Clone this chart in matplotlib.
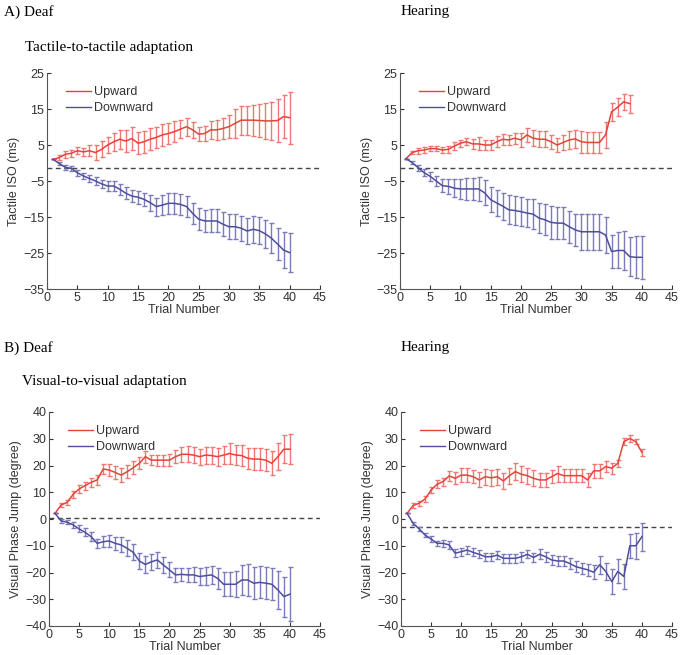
import numpy as np
import matplotlib.pyplot as plt
import matplotlib.lines as mlines

plt.rcParams['font.family'] = ['Liberation Sans', 'DejaVu Sans']

RED = '#e5443a'
RED_ERR = '#ec7a72'
BLUE = '#4e4e9c'
BLUE_ERR = '#7b7bb9'

#---------- A) tactile, deaf ----------#
tac_deaf_up = [1.0, 1.5, 2.4, 2.7, 3.4, 3.1, 3.4, 2.9, 3.8, 5.0,
               5.9, 6.6, 6.1, 6.8, 5.5, 5.9, 6.6, 7.1, 7.8, 8.2,
               8.7, 9.4, 10.1, 9.2, 8.0, 8.2, 9.2, 9.2, 9.6, 10.1,
               11.0, 11.9, 11.9, 11.9, 11.8, 11.7, 11.7, 11.8, 12.9, 12.6]
tac_deaf_up_err = [0, 0.8, 1.0, 1.0, 1.0, 1.2, 1.5, 2.0, 2.2, 2.3,
                   2.5, 2.7, 3.0, 3.2, 3.0, 3.0, 3.0, 3.0, 3.0, 3.0,
                   3.0, 2.5, 2.5, 2.3, 2.0, 2.2, 2.5, 2.8, 3.0, 3.2,
                   4.0, 4.0, 4.0, 4.3, 4.7, 5.0, 5.3, 6.0, 6.0, 7.2]
tac_deaf_down = [1.0, -0.1, -1.2, -1.5, -2.7, -3.6, -4.3, -5.0, -5.8, -6.4,
                 -6.4, -7.3, -8.4, -9.2, -9.5, -10.1, -11.0, -12.1, -11.7, -11.2,
                 -11.2, -11.5, -12.1, -14.0, -15.6, -16.1, -16.1, -16.1, -17.0, -17.7,
                 -17.7, -18.1, -18.9, -18.4, -18.8, -19.7, -20.9, -22.5, -24.2, -24.9]
tac_deaf_down_err = [0, 0.5, 0.7, 0.8, 0.8, 0.9, 1.0, 1.1, 1.2, 1.4,
                     1.5, 1.6, 1.6, 1.7, 1.8, 1.9, 2.2, 2.5, 2.8, 3.0,
                     3.0, 3.0, 3.0, 3.0, 3.0, 3.0, 3.2, 3.2, 3.3, 3.4,
                     3.5, 3.5, 3.6, 3.7, 3.8, 4.0, 4.2, 4.5, 5.0, 5.5]

#---------- A) tactile, hearing ----------#
tac_hear_up = [1.2, 2.9, 3.4, 3.6, 4.0, 4.0, 3.6, 3.8, 4.7, 5.5,
               5.9, 5.3, 5.3, 5.0, 5.0, 5.9, 6.6, 6.4, 6.9, 6.4,
               7.8, 6.9, 6.6, 6.6, 5.9, 5.0, 5.7, 6.4, 6.7, 5.9,
               5.7, 5.7, 5.7, 7.8, 14.2, 15.5, 17.0, 16.5]
tac_hear_up_err = [0, 0.5, 0.8, 0.8, 0.7, 0.6, 0.8, 1.0, 1.0, 1.0,
                   1.0, 1.5, 1.8, 1.5, 1.5, 1.5, 1.5, 1.5, 1.5, 2.0,
                   2.0, 2.2, 2.2, 2.2, 2.0, 2.0, 2.2, 2.5, 2.5, 3.0,
                   3.0, 3.0, 3.0, 3.7, 2.6, 2.5, 2.3, 2.5]
tac_hear_down = [1.2, 0.1, -1.3, -2.7, -3.7, -5.0, -6.3, -6.5, -7.0, -7.2,
                 -7.2, -7.2, -7.2, -8.3, -10.2, -11.1, -12.0, -13.0, -13.2, -13.5,
                 -13.9, -14.2, -15.3, -15.8, -16.5, -16.7, -16.7, -17.7, -18.6, -19.1,
                 -19.1, -19.1, -19.1, -20.0, -24.6, -24.3, -24.3, -26.0, -26.2, -26.2]
tac_hear_down_err = [0, 0.5, 0.8, 1.0, 1.2, 1.5, 1.8, 2.0, 2.5, 2.8,
                     3.0, 3.0, 3.3, 3.5, 3.5, 3.7, 3.8, 4.0, 4.0, 4.0,
                     4.0, 4.2, 4.2, 4.3, 4.5, 4.5, 4.5, 4.5, 4.5, 5.0,
                     5.0, 5.0, 5.0, 5.0, 4.7, 5.0, 5.5, 5.5, 5.8, 6.0]

#---------- B) visual, deaf ----------#
vis_deaf_up = [2.1, 5.2, 6.2, 9.2, 11.2, 12.5, 13.7, 14.6, 18.7, 18.3,
               17.4, 16.4, 17.7, 19.2, 20.8, 23.3, 22.0, 22.0, 22.0, 22.0,
               23.3, 24.2, 24.2, 23.9, 23.3, 23.9, 23.7, 23.3, 23.9, 24.5,
               23.9, 23.7, 22.7, 22.4, 22.4, 22.0, 20.8, 23.3, 26.1, 26.1]
vis_deaf_up_err = [0, 0.8, 1.0, 1.2, 1.5, 1.5, 1.8, 2.0, 2.0, 2.2,
                   2.5, 2.5, 2.5, 2.5, 2.2, 2.2, 1.8, 2.0, 2.0, 2.2,
                   2.5, 2.8, 3.0, 3.0, 3.0, 3.2, 3.3, 3.3, 3.5, 3.8,
                   3.8, 4.0, 4.0, 4.0, 4.0, 4.2, 4.5, 5.0, 5.3, 5.5]
vis_deaf_down = [2.1, -0.7, -1.2, -2.2, -3.7, -5.0, -6.6, -9.1, -8.5, -8.2,
                 -9.1, -9.7, -11.0, -12.5, -15.7, -17.0, -16.0, -15.3, -17.2, -19.0,
                 -20.9, -20.7, -20.9, -20.9, -21.5, -21.2, -20.9, -22.2, -24.4, -24.4,
                 -24.4, -22.8, -22.8, -24.0, -23.7, -24.0, -24.4, -26.5, -29.0, -28.1]
vis_deaf_down_err = [0, 0.8, 0.8, 1.0, 1.3, 1.5, 1.8, 1.8, 2.0, 2.3,
                     2.5, 2.8, 3.0, 3.0, 3.0, 3.0, 3.0, 3.0, 3.0, 2.8,
                     2.5, 2.5, 2.5, 2.8, 3.0, 3.3, 3.5, 4.0, 4.5, 4.5,
                     4.8, 5.5, 5.8, 6.0, 6.0, 6.0, 6.0, 7.0, 7.5, 10.0]

#---------- B) visual, hearing ----------#
vis_hear_up = [2.1, 5.0, 5.9, 7.5, 10.8, 13.0, 14.0, 16.1, 15.2, 16.4,
               16.4, 15.8, 14.6, 15.8, 15.4, 15.8, 14.2, 16.2, 17.7, 16.7,
               16.2, 15.2, 14.6, 14.6, 15.8, 17.0, 16.2, 16.2, 16.2, 16.2,
               14.6, 18.0, 18.0, 19.6, 19.0, 20.8, 28.9, 30.1, 28.9, 24.9]
vis_hear_up_err = [0, 0.8, 1.0, 1.2, 1.2, 1.5, 1.5, 2.0, 2.2, 2.5,
                   2.5, 2.5, 2.8, 3.0, 3.0, 3.0, 3.0, 3.0, 3.3, 3.0,
                   3.0, 3.0, 2.5, 2.5, 2.5, 3.0, 2.5, 2.5, 2.5, 2.5,
                   2.5, 2.5, 2.5, 2.0, 2.0, 1.2, 1.2, 1.2, 1.0, 1.2]
vis_hear_down = [2.1, -1.6, -3.7, -6.0, -7.5, -9.1, -9.1, -9.7, -12.8, -12.2,
                 -11.6, -12.5, -13.2, -14.1, -14.1, -13.5, -14.7, -14.7, -14.7, -14.1,
                 -13.2, -14.4, -13.2, -14.1, -15.3, -15.7, -15.7, -16.6, -17.8, -18.4,
                 -19.0, -19.9, -17.1, -19.6, -23.4, -19.6, -21.5, -10.0, -10.0, -6.6]
vis_hear_down_err = [0, 0.5, 0.8, 0.8, 1.0, 1.0, 1.3, 1.5, 1.5, 1.5,
                     1.5, 1.5, 1.5, 1.5, 1.5, 1.5, 1.8, 1.8, 1.8, 1.8,
                     1.5, 1.8, 1.8, 1.8, 2.0, 2.0, 2.0, 2.0, 2.0, 2.0,
                     2.3, 2.7, 3.3, 3.3, 4.7, 4.5, 4.7, 4.5, 4.8, 5.2]

# dashed reference level per panel
base_lvl = [-1.3, -1.4, 0.3, -2.9]

fig = plt.figure(figsize=(6.85, 6.55), dpi=100)
W, H = 685., 655.

def make_ax(x0, x1, ytop, ybot):
    return fig.add_axes([x0/W, 1-ybot/H, (x1-x0)/W, (ybot-ytop)/H])

panels = [
    (make_ax(47, 320, 73, 289), tac_deaf_up, tac_deaf_up_err, tac_deaf_down, tac_deaf_down_err, 'Tactile ISO (ms)', (-35, 25), np.arange(-35, 26, 10)),
    (make_ax(400, 672, 73, 289), tac_hear_up, tac_hear_up_err, tac_hear_down, tac_hear_down_err, 'Tactile ISO (ms)', (-35, 25), np.arange(-35, 26, 10)),
    (make_ax(49, 320, 412, 626), vis_deaf_up, vis_deaf_up_err, vis_deaf_down, vis_deaf_down_err, 'Visual Phase Jump (degree)', (-40, 40), np.arange(-40, 41, 10)),
    (make_ax(401, 672, 412, 626), vis_hear_up, vis_hear_up_err, vis_hear_down, vis_hear_down_err, 'Visual Phase Jump (degree)', (-40, 40), np.arange(-40, 41, 10)),
]

for i, (ax, up, up_e, dn, dn_e, ylab, ylim, yt) in enumerate(panels):
    xu = np.arange(1, len(up)+1)
    xd = np.arange(1, len(dn)+1)
    ax.plot([0, 45], [base_lvl[i]]*2, color='#444444', lw=1, dashes=(3.5, 2.5))
    ax.errorbar(xu, up, yerr=up_e, color=RED, ecolor=RED_ERR, lw=1.1, elinewidth=1, capsize=1.8)
    ax.errorbar(xd, dn, yerr=dn_e, color=BLUE, ecolor=BLUE_ERR, lw=1.1, elinewidth=1, capsize=1.8)
    ax.set_xlim(0, 45)
    ax.set_ylim(*ylim)
    ax.set_xticks(np.arange(0, 46, 5))
    ax.set_yticks(yt)
    ax.set_yticklabels([str(v).replace('-', '\u2212') for v in yt])
    ax.spines['top'].set_visible(False)
    ax.spines['right'].set_visible(False)
    for s in ('left', 'bottom'):
        ax.spines[s].set_color('#555555')
        ax.spines[s].set_linewidth(0.8)
    ax.tick_params(direction='in', length=3, labelsize=9, colors='#333333', pad=2)
    ax.set_xlabel('Trial Number', fontsize=9, labelpad=0, color='#333333')
    ax.set_ylabel(ylab, fontsize=9, labelpad=2, color='#333333')
    hs = [mlines.Line2D([], [], color=RED, lw=1), mlines.Line2D([], [], color=BLUE, lw=1)]
    ax.legend(hs, ['Upward', 'Downward'], loc='upper left', bbox_to_anchor=(0.03, 0.99),
              frameon=False, fontsize=9, handlelength=2.0, labelspacing=0.3,
              handletextpad=0.2, labelcolor='#333333')

serif = ['Liberation Serif', 'DejaVu Serif']
fig.text(4/W, 1-12/H, 'A) Deaf', family=serif, fontsize=11, va='center')
fig.text(401/W, 1-12/H, 'Hearing', family=serif, fontsize=11, va='center')
fig.text(25/W, 1-47/H, 'Tactile-to-tactile adaptation', family=serif, fontsize=11, va='center')
fig.text(4/W, 1-348/H, 'B) Deaf', family=serif, fontsize=11, va='center')
fig.text(401/W, 1-348/H, 'Hearing', family=serif, fontsize=11, va='center')
fig.text(22/W, 1-382/H, 'Visual-to-visual adaptation', family=serif, fontsize=11, va='center')

fig.savefig('out.png', dpi=100)
